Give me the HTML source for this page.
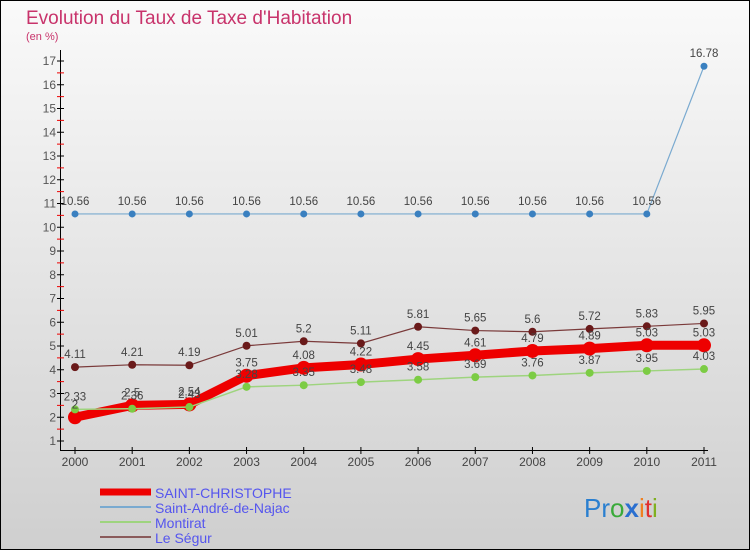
<!DOCTYPE html>
<html><head><meta charset="utf-8"><style>
body{margin:0;width:750px;height:550px;overflow:hidden;font-family:"Liberation Sans",sans-serif}
svg text{font-family:"Liberation Sans",sans-serif}
</style></head><body>
<svg id="chart" width="750" height="550" xmlns="http://www.w3.org/2000/svg">
<defs><linearGradient id="bg" x1="0" y1="0" x2="0" y2="1"><stop offset="0" stop-color="#fafafa"/><stop offset="1" stop-color="#cfcfcf"/></linearGradient></defs>
<rect x="0.5" y="0.5" width="749" height="549" fill="url(#bg)" stroke="#000"/>
<text x="26" y="24" font-size="19" fill="#c8336b">Evolution du Taux de Taxe d'Habitation</text>
<text x="26" y="40" font-size="11" fill="#c8336b">(en %)</text>
<g id="axes"></g><g id="series"></g>
<g>
<line x1="100" y1="492" x2="151" y2="492" stroke="#e00" stroke-width="7"/>
<line x1="100" y1="507" x2="151" y2="507" stroke="#7aaad0" stroke-width="2"/>
<line x1="100" y1="522" x2="151" y2="522" stroke="#9ed47e" stroke-width="2"/>
<line x1="100" y1="537" x2="151" y2="537" stroke="#8a5a5a" stroke-width="2"/>
<text x="155" y="498" font-size="14" fill="#5555ee">SAINT-CHRISTOPHE</text>
<text x="155" y="513" font-size="14" fill="#5555ee">Saint-André-de-Najac</text>
<text x="155" y="528" font-size="14" fill="#5555ee">Montirat</text>
<text x="155" y="543" font-size="14" fill="#5555ee">Le Ségur</text>
</g>
<g font-size="26">
<text x="584" y="517"><tspan fill="#2a7fd0">Pr</tspan><tspan fill="#3aaa3a">o</tspan><tspan fill="#2a6fd0" font-weight="bold">x</tspan><tspan fill="#f08020">i</tspan><tspan fill="#e03030">t</tspan><tspan fill="#80b020">i</tspan></text>
</g>
</svg>
<script>
const years=[2000,2001,2002,2003,2004,2005,2006,2007,2008,2009,2010,2011];
const yTicks=[1,2,3,4,5,6,7,8,9,10,11,12,13,14,15,16,17];
const saintChristophe=[2,2.5,2.54,3.75,4.08,4.22,4.45,4.61,4.79,4.89,5.03,5.03];
const saintAndre=[10.56,10.56,10.56,10.56,10.56,10.56,10.56,10.56,10.56,10.56,10.56,16.78];
const montirat=[2.33,2.36,2.43,3.28,3.35,3.48,3.58,3.69,3.76,3.87,3.95,4.03];
const leSegur=[4.11,4.21,4.19,5.01,5.2,5.11,5.81,5.65,5.6,5.72,5.83,5.95];
const NS='http://www.w3.org/2000/svg';
function X(i){return 75+i*(704-75)/(years.length-1);}
function Y(v){return 441-(v-1)*23.75;}
function mk(t,a,p){const e=document.createElementNS(NS,t);for(const k in a)e.setAttribute(k,a[k]);p.appendChild(e);return e;}
const ax=document.getElementById('axes');
let l=mk('line',{x1:60.5,y1:50,x2:60.5,y2:450,stroke:'#000'},ax);


l=mk('line',{x1:60,y1:450.5,x2:708,y2:450.5,stroke:'#000'},ax);


yTicks.forEach(v=>{
 mk('line',{x1:57,y1:Y(v),x2:64,y2:Y(v),stroke:'#000'},ax);
 if(v<17)mk('line',{x1:57,y1:Y(v+0.5),x2:64,y2:Y(v+0.5),stroke:'#e00'},ax);
 const t=mk('text',{x:56,y:Y(v)+4,'font-size':12,fill:'#555','text-anchor':'end'},ax);t.textContent=v;
 
 
});
years.forEach((yr,i)=>{
 mk('line',{x1:X(i),y1:447,x2:X(i),y2:454,stroke:'#000'},ax);
 const t=mk('text',{x:X(i),y:466,'font-size':12,fill:'#444','text-anchor':'middle'},ax);t.textContent=yr;
 
 
});
const sg=document.getElementById('series');
function series(vals,color,dot,w,r,name){
 const g=mk('g',{},sg);
 
 
 mk('polyline',{points:vals.map((v,i)=>X(i)+','+Y(v)).join(' '),fill:'none',stroke:color,'stroke-width':w,'stroke-linejoin':'round'},g);
 vals.forEach((v,i)=>{
  const c=mk('circle',{cx:X(i),cy:Y(v),r:r,fill:dot},g);
  
  
 });
}
series(saintAndre,'#7aaad0','#3a80c0',1.2,3.5,'series-saint-andre');
series(leSegur,'#7a3a3a','#6a1a1a',1.2,4,'series-le-segur');
series(saintChristophe,'#ee0000','#ee0000',9,7,'series-saint-christophe');
series(montirat,'#9ed47e','#7ccc44',1.5,4,'series-montirat');
const lg=mk('g',{},sg);


[saintAndre,leSegur,saintChristophe,montirat].forEach(arr=>arr.forEach((v,i)=>{
 const t=mk('text',{x:X(i),y:Y(v)-9,'font-size':11.5,fill:'#444','text-anchor':'middle'},lg);t.textContent=v;
}));
</script>
</body></html>
